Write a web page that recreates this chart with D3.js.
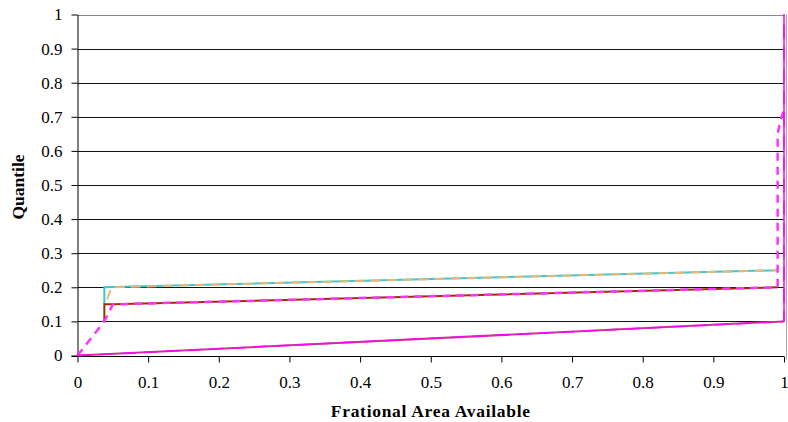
<!DOCTYPE html>
<html><head><meta charset="utf-8">
<script src="https://cdn.jsdelivr.net/npm/d3@7/dist/d3.min.js"></script>
<style>html,body{margin:0;padding:0;background:#fff;}svg{display:block;}</style>
</head><body>
<svg id="chart" width="788" height="422"></svg>
<script>
// ---- data ----
const xTicks = [0,0.1,0.2,0.3,0.4,0.5,0.6,0.7,0.8,0.9,1];
const yTicks = [0,0.1,0.2,0.3,0.4,0.5,0.6,0.7,0.8,0.9,1];
const xTickLabels = ["0","0.1","0.2","0.3","0.4","0.5","0.6","0.7","0.8","0.9","1"];
const yTickLabels = ["0","0.1","0.2","0.3","0.4","0.5","0.6","0.7","0.8","0.9","1"];
const xTitle = "Frational Area Available";
const yTitle = "Quantile";

const seriesCyanX  = [0.038, 0.038, 0.991];
const seriesCyanY  = [0.15,  0.2,   0.25];
const seriesTanX   = [0.042, 0.048, 0.991];
const seriesTanY   = [0.165, 0.2,   0.25];
const seriesBrownX = [0.038, 0.038, 0.05, 0.991];
const seriesBrownY = [0.1,   0.15,  0.15, 0.2];
const seriesPinkX  = [0, 1];
const seriesPinkY  = [0, 0.1];
const seriesMagDashX = [0, 0.038, 0.05, 0.991, 0.991, 0.995, 1];
const seriesMagDashY = [0, 0.1,   0.15, 0.2,   0.65,  0.69,  0.72];
const seriesMagSolidX = [0, 1, 1];
const seriesMagSolidY = [0, 0.1, 1];

// ---- layout ----
const W = 788, H = 422;
const m = {left: 77.5, right: 4, top: 14.5, bottom: 66.5};
const svg = d3.select("#chart");
const x = d3.scaleLinear().domain([0,1]).range([m.left, W - m.right]);
const y = d3.scaleLinear().domain([0,1]).range([H - m.bottom, m.top]);

// gridlines
svg.append("g").selectAll("line").data(yTicks.filter(d => d > 0)).join("line")
  .attr("x1", x(0)).attr("x2", x(1))
  .attr("y1", d => Math.round(y(d)) + 0.5).attr("y2", d => Math.round(y(d)) + 0.5)
  .attr("stroke", d => d === 1 ? "#888" : "#111").attr("stroke-width", 1);

// right grey frame
svg.append("line").attr("x1", x(1) + 2.5).attr("x2", x(1) + 2.5)
  .attr("y1", y(1)).attr("y2", y(0) + 4).attr("stroke", "#aaa").attr("stroke-width", 1);

// axes
const font = "Liberation Serif, Times New Roman, DejaVu Serif, serif";
const xAxis = d3.axisBottom(x).tickValues(xTicks).tickFormat((d,i) => xTickLabels[i]).tickSize(6).tickSizeOuter(0);
const yAxis = d3.axisLeft(y).tickValues(yTicks).tickFormat((d,i) => yTickLabels[i]).tickSize(6).tickSizeOuter(0);
const gx = svg.append("g").attr("transform", `translate(0,${Math.round(y(0)) + 0.5})`).call(xAxis);
const gy = svg.append("g").attr("transform", `translate(${Math.round(x(0)) - 0.5},0)`).call(yAxis);
[gx, gy].forEach(g => {
  g.attr("font-family", null).attr("font-size", null);
  g.selectAll("path,line").attr("stroke", "#000").attr("stroke-width", 1);
  g.selectAll("text").style("font-family", font).style("font-size", "17px").attr("fill", "#000");
});
gx.select(".domain").attr("d", `M${x(0)-6},0H${x(1)}`);
gx.selectAll("text").attr("dy", "22.5px");
gy.selectAll("text").attr("dx", "-6px");

// titles
svg.append("text").attr("x", (x(0) + x(1)) / 2).attr("y", 417).attr("text-anchor", "middle")
  .style("font-family", font).style("font-size", "17.5px").style("font-weight", "bold")
  .style("letter-spacing", "0.7px").text(xTitle);
svg.append("text").attr("transform", `translate(24,${(y(0)+y(1))/2 + 2}) rotate(-90)`).attr("text-anchor", "middle")
  .style("font-family", font).style("font-size", "17.5px").style("font-weight", "bold")
  .text(yTitle);

// series
const line = d3.line().x(d => x(d[0])).y(d => y(d[1]));
function draw(xs, ys, color, width, dash) {
  svg.append("path").datum(xs.map((v,i) => [v, ys[i]]))
    .attr("d", line).attr("fill", "none").attr("stroke", color)
    .attr("stroke-width", width).attr("stroke-dasharray", dash || null);
}
draw(seriesCyanX, seriesCyanY, "#33cccc", 2, null);
draw(seriesTanX, seriesTanY, "#e8b878", 2, "10,6");
draw(seriesBrownX, seriesBrownY, "#993300", 2, null);
draw(seriesMagDashX, seriesMagDashY, "#ff33ff", 2.5, "8,6");
draw(seriesPinkX, seriesPinkY, "#cc3399", 2, null);
draw(seriesMagSolidX, seriesMagSolidY, "#ff00ff", 1.5, "14,8");
draw(seriesMagSolidX.slice(1), seriesMagSolidY.slice(1), "#ff00ff", 1.5, null);
</script>
</body></html>
